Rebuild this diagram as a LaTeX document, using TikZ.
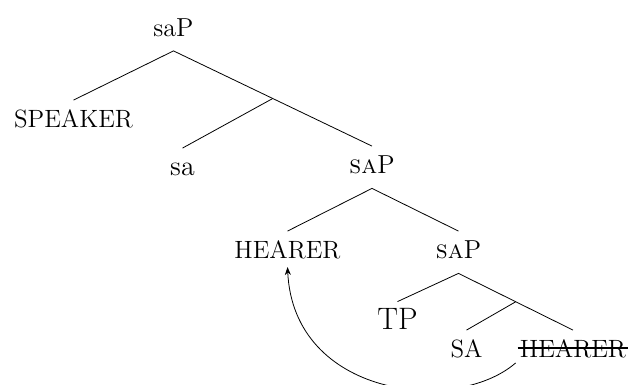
\documentclass[tikz,border=0pt]{standalone}
\usepackage{fontspec}
\usetikzlibrary{positioning,calc,arrows.meta}

\tikzset{
  lab/.style={anchor=base, text height=13.75pt, text depth=7pt, inner ysep=0pt, inner xsep=1pt},
  cat/.style={lab, font=\fontsize{13}{15}\selectfont},
  leaf/.style={lab, font=\fontsize{12.5}{14}\selectfont},
  strike/.style={line width=1pt},
}

\begin{document}
\begin{tikzpicture}[x=0.5pt, y=-0.5pt]
    \useasboundingbox (0,0) rectangle (634,385);

    % top of the tree
    \node[cat] (saP) at (173.5, 36.5) {saP};
    \node[leaf] (speaker) at (73.5, 128) {SPEAKER};
    \node[lab, font=\fontsize{14}{16}\selectfont] (sa) at (182.5, 176) {sa};
    \node[cat] (saP1) at (372, 174) {\textsc{sa}P};
    \draw (speaker.north) -- (saP.south) -- (saP1.north);
    \coordinate (b1) at ($(saP.south)!0.5!(saP1.north)$);
    \draw (sa.north) -- (b1);

    % lower part
    \node[leaf] (hearer) at (287.5, 259) {HEARER};
    \node[cat] (saP2) at (458.5, 259) {\textsc{sa}P};
    \draw (hearer.north) -- (saP1.south) -- (saP2.north);

    \node[lab, font=\fontsize{15.5}{17}\selectfont] (TP) at (397.5, 329.5) {TP};
    \node[leaf] (SA) at (466.5, 358) {SA};
    \node[leaf] (hearer2) at (573, 358) {HEARER};
    \draw (TP.north) -- (saP2.south) -- (hearer2.north);
    \coordinate (b2) at ($(saP2.south)!0.5!(hearer2.north)$);
    \draw (SA.north) -- (b2);

    % struck copy and movement arrow
    \draw[strike] ([yshift=5pt]hearer2.base west) -- ([yshift=5pt]hearer2.base east);
    \draw[-{Stealth[length=4pt,width=3pt]}] ([shift={(-1pt,-2.5pt)}]hearer2.base west)
        .. controls +(-60,52) and +(6,130) .. ([yshift=-4pt]hearer.base);
\end{tikzpicture}
\end{document}
